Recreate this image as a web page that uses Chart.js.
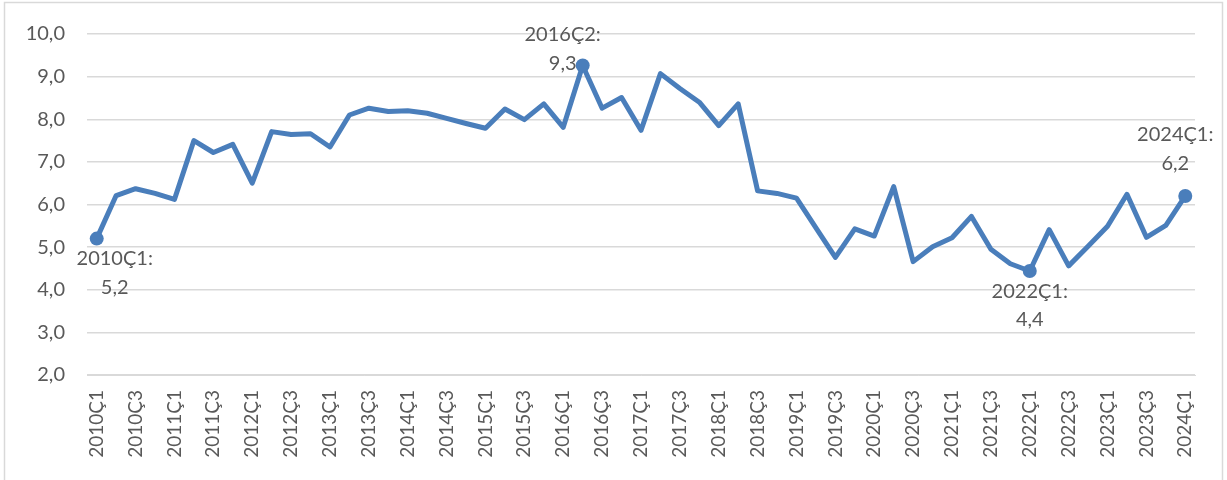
<!DOCTYPE html>
<html>
<head>
<meta charset="utf-8">
<script src="https://cdn.jsdelivr.net/npm/chart.js@4"></script>
<style>
  html, body { margin: 0; padding: 0; background: #ffffff; }
  #plotCanvas { display: block; }
</style>
</head>
<body>
<canvas id="plotCanvas" width="1227" height="480"></canvas>
<script>
var quarters = [
    '2010Ç1', '2010Ç2', '2010Ç3', '2010Ç4',
    '2011Ç1', '2011Ç2', '2011Ç3', '2011Ç4',
    '2012Ç1', '2012Ç2', '2012Ç3', '2012Ç4',
    '2013Ç1', '2013Ç2', '2013Ç3', '2013Ç4',
    '2014Ç1', '2014Ç2', '2014Ç3', '2014Ç4',
    '2015Ç1', '2015Ç2', '2015Ç3', '2015Ç4',
    '2016Ç1', '2016Ç2', '2016Ç3', '2016Ç4',
    '2017Ç1', '2017Ç2', '2017Ç3', '2017Ç4',
    '2018Ç1', '2018Ç2', '2018Ç3', '2018Ç4',
    '2019Ç1', '2019Ç2', '2019Ç3', '2019Ç4',
    '2020Ç1', '2020Ç2', '2020Ç3', '2020Ç4',
    '2021Ç1', '2021Ç2', '2021Ç3', '2021Ç4',
    '2022Ç1', '2022Ç2', '2022Ç3', '2022Ç4',
    '2023Ç1', '2023Ç2', '2023Ç3', '2023Ç4',
    '2024Ç1'
];

var rateValues = [
    5.2, 6.21, 6.37, 6.26,
    6.12, 7.50, 7.22, 7.41,
    6.50, 7.71, 7.64, 7.66,
    7.35, 8.10, 8.26, 8.18,
    8.20, 8.14, 8.02, 7.90,
    7.79, 8.24, 7.99, 8.36,
    7.81, 9.26, 8.26, 8.51,
    7.74, 9.07, 8.72, 8.40,
    7.85, 8.36, 6.32, 6.26,
    6.15, 5.45, 4.76, 5.43,
    5.26, 6.42, 4.66, 5.01,
    5.22, 5.72, 4.95, 4.61,
    4.44, 5.41, 4.56, 5.02,
    5.49, 6.24, 5.23, 5.51,
    6.20
];

// quarters that carry a data label in the original
var labelledQuarters = ['2010Ç1', '2016Ç2', '2022Ç1', '2024Ç1'];

var yMin = 2;
var yMax = 10;
var yStep = 1;

// where each label sits relative to its point (dx, dy of first and second line centres)
var labelOffsets = {
    '2010Ç1': { dx: 18, dy1: 20, dy2: 49 },
    '2016Ç2': { dx: -20, dy1: -31, dy2: -2 },
    '2022Ç1': { dx: 0, dy1: 21, dy2: 49 },
    '2024Ç1': { dx: -10, dy1: -61, dy2: -32 }
};

var lineColor = '#4a7ebb';
var textColor = '#595959';
var gridColor = '#d9d9d9';
var fontFamily = 'Lato, "Liberation Sans", sans-serif';

function formatComma(v) {
    return v.toFixed(1).replace('.', ',');
}

var frameAndLabels = {
    id: 'frameAndLabels',
    beforeDraw: function (chart) {
        var ctx = chart.ctx;
        ctx.save();
        ctx.fillStyle = '#ffffff';
        ctx.fillRect(0, 0, chart.width, chart.height);
        ctx.strokeStyle = gridColor;
        ctx.lineWidth = 1.5;
        ctx.strokeRect(4.5, 2.5, 1218, 490);
        ctx.restore();
    },
    afterDatasetsDraw: function (chart) {
        var ctx = chart.ctx;
        var meta = chart.getDatasetMeta(0);
        ctx.save();
        ctx.font = '20px ' + fontFamily;
        ctx.fillStyle = textColor;
        ctx.textAlign = 'center';
        ctx.textBaseline = 'middle';
        labelledQuarters.forEach(function (q) {
            var i = quarters.indexOf(q);
            var pt = meta.data[i];
            var off = labelOffsets[q];
            ctx.fillText(q + ':', pt.x + off.dx, pt.y + off.dy1);
            ctx.fillText(formatComma(rateValues[i]), pt.x + off.dx, pt.y + off.dy2);
        });
        ctx.restore();
    }
};

var pointSizes = quarters.map(function (q) {
    return labelledQuarters.indexOf(q) >= 0 ? 7 : 0;
});

var canvas = document.getElementById('plotCanvas');
var ctx = canvas.getContext('2d');

var currentChart = new Chart(ctx, {
    type: 'line',
    data: {
        labels: quarters,
        datasets: [{
            data: rateValues,
            borderColor: lineColor,
            backgroundColor: lineColor,
            borderWidth: 5,
            borderJoinStyle: 'round',
            borderCapStyle: 'round',
            tension: 0,
            pointRadius: pointSizes,
            pointHoverRadius: pointSizes,
            pointBorderWidth: 0,
            pointBackgroundColor: lineColor
        }]
    },
    options: {
        responsive: false,
        animation: false,
        events: [],
        layout: {
            padding: { left: 0, right: 32, top: 29, bottom: 0 }
        },
        plugins: {
            legend: { display: false },
            tooltip: { enabled: false }
        },
        scales: {
            x: {
                offset: true,
                grid: { display: false, drawTicks: false },
                border: { display: true, color: gridColor, width: 1 },
                ticks: {
                    autoSkip: false,
                    maxRotation: 90,
                    minRotation: 90,
                    padding: 15,
                    color: textColor,
                    font: { family: fontFamily, size: 19 },
                    callback: function (value, index) {
                        return index % 2 === 0 ? quarters[index] : '';
                    }
                },
                afterFit: function (scale) {
                    scale.height = 105;
                }
            },
            y: {
                min: yMin,
                max: yMax,
                grid: { color: gridColor, lineWidth: 1.5, drawTicks: false },
                border: { display: false },
                ticks: {
                    stepSize: yStep,
                    padding: 22,
                    color: textColor,
                    font: { family: fontFamily, size: 20 },
                    callback: function (value) {
                        return formatComma(value);
                    }
                },
                afterFit: function (scale) {
                    scale.width = 87;
                }
            }
        }
    },
    plugins: [frameAndLabels]
});
</script>
</body>
</html>
